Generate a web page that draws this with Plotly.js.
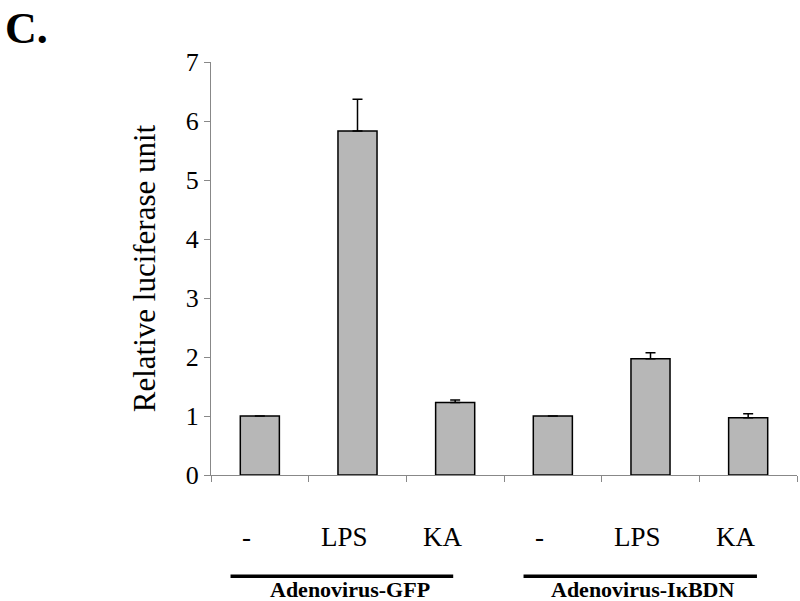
<!DOCTYPE html>
<html>
<head>
<meta charset="utf-8">
<script src="https://cdn.plot.ly/plotly-3.0.1.min.js"></script>
<style>html,body{margin:0;padding:0;background:#fff;}#chart{width:800px;height:601px;}</style>
</head>
<body>
<div id="chart"></div>
<script>
const treatments = ["-", "LPS", "KA", "-", "LPS", "KA"];
const values = [1.0, 5.83, 1.23, 1.0, 1.97, 0.97];
const errors = [0.0, 0.54, 0.04, 0.0, 0.10, 0.07];
const groups = ["Adenovirus-GFP", "Adenovirus-I\u03baBDN"];
const yTicks = [0, 1, 2, 3, 4, 5, 6, 7];

const xs = treatments.map((_, i) => i);
const serif = "'Liberation Serif', 'Times New Roman', Times, serif";

const trace = {
  type: "bar",
  x: xs,
  y: values,
  width: 0.4,
  marker: {color: "#b7b7b7", line: {color: "#000", width: 1.5}},
  error_y: {type: "data", symmetric: false, array: errors, arrayminus: errors.map(() => 0),
            visible: true, color: "#000", thickness: 1.5, width: 5},
  hoverinfo: "skip"
};

const annotations = treatments.map((t, i) => ({
  x: i, y: -0.15, xref: "x", yref: "paper", text: t, showarrow: false,
  xshift: -13, font: {family: serif, size: 27, color: "#000"}, yanchor: "middle"
}));
groups.forEach((g, k) => {
  annotations.push({
    x: 3 * k + 1, y: -0.278, xref: "x", yref: "paper", text: "<b>" + g + "</b>",
    showarrow: false, xshift: -8, font: {family: serif, size: 22, color: "#000"}, yanchor: "middle"
  });
});
annotations.push({
  x: 0, y: 1, xref: "paper", yref: "paper", xanchor: "left", yanchor: "top",
  text: "<b>C.</b>", showarrow: false, xshift: -208, yshift: 60,
  font: {family: serif, size: 44, color: "#000"}
});

const shapes = [];
groups.forEach((g, k) => {
  shapes.push({
    type: "line", xref: "x", yref: "paper",
    x0: 3 * k - 0.30, x1: 3 * k + 2.00 + (k ? 0.09 : -0.02),
    y0: -0.245, y1: -0.245,
    line: {color: "#000", width: 3.5}
  });
});

const layout = {
  width: 800, height: 601,
  margin: {l: 211, r: 3, t: 62, b: 126},
  paper_bgcolor: "#fff", plot_bgcolor: "#fff",
  showlegend: false,
  xaxis: {
    range: [-0.5, 5.5], tickmode: "array",
    tickvals: [-0.5, 0.5, 1.5, 2.5, 3.5, 4.5, 5.5],
    ticktext: ["", "", "", "", "", "", ""],
    ticks: "outside", ticklen: 6, tickcolor: "#888", tickwidth: 1,
    showline: true, linecolor: "#888", linewidth: 1,
    showgrid: false, zeroline: false, fixedrange: true
  },
  yaxis: {
    range: [0, 7], tickmode: "array", tickvals: yTicks,
    ticks: "outside", ticklen: 6, tickcolor: "#888",
    showline: true, linecolor: "#888", linewidth: 1,
    showgrid: false, zeroline: false,
    tickfont: {family: serif, size: 26, color: "#000"},
    title: {text: "Relative luciferase unit", font: {family: serif, size: 31, color: "#000"}, standoff: 20},
    fixedrange: true
  },
  annotations: annotations,
  shapes: shapes
};

Plotly.newPlot("chart", [trace], layout, {displayModeBar: false, staticPlot: true});
</script>
</body>
</html>
